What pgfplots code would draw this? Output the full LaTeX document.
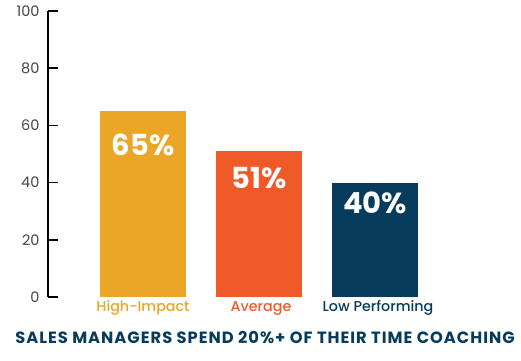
\documentclass[border=0pt]{standalone}
\usepackage{fontspec}
\setmainfont{Poppins}
\newfontfamily\popmed{Poppins Medium}
\usepackage{pgfplots}
\pgfplotsset{compat=1.18}
\definecolor{cyel}{HTML}{EBA628}
\definecolor{cora}{HTML}{F05A28}
\definecolor{cnav}{HTML}{073B5C}
\definecolor{ctick}{HTML}{444444}
\begin{document}
\begin{tikzpicture}[x=1pt,y=1pt]
\path[use as bounding box] (0,0) rectangle (521,360);
\begin{axis}[
  at={(48pt,63pt)}, anchor=south west,
  scale only axis,
  x=116pt, y=2.86pt,
  xmin=-0.819, xmax=2.5,
  ymin=0, ymax=100,
  axis x line=none,
  axis y line*=left,
  axis line style={line width=1.5pt, black, -},
  ytick={0,20,...,100},
  tick align=inside,
  major tick length=10pt,
  tick style={line width=1.5pt, black},
  yticklabel style={font=\fontsize{14.5}{14.5}\selectfont, text=ctick, xshift=-5pt},
  /pgf/number format/assume math mode=true,
  ybar, bar width=86pt,
  clip=false,
]
\addplot[fill=cyel, draw=none, bar shift=0pt] coordinates {(0,65)};
\addplot[fill=cora, draw=none, bar shift=0pt] coordinates {(1,51)};
\addplot[fill=cnav, draw=none, bar shift=0pt] coordinates {(2,40)};
\addplot[only marks, mark=none, point meta=explicit symbolic,
  nodes near coords, every node near coord/.style={anchor=center, text=white, font=\bfseries\fontsize{29}{29}\selectfont}]
  table[meta=lab] {
x y lab
0 53.1 65\%
1 41.6 51\%
2 32.9 40\%
};
\end{axis}
\node[text=cyel, font=\popmed\fontsize{14.3}{14.3}\selectfont] at (143,52) {High-Impact};
\node[text=cora, font=\popmed\fontsize{14.3}{14.3}\selectfont] at (261,52) {Average};
\node[text=cnav, font=\popmed\fontsize{14.3}{14.3}\selectfont] at (378,52) {Low Performing};
\node[text=cnav, font=\bfseries\fontsize{16.3}{16.3}\selectfont\addfontfeature{LetterSpace=6}] at (265,22) {SALES MANAGERS SPEND 20\%+ OF THEIR TIME COACHING};
\end{tikzpicture}
\end{document}
